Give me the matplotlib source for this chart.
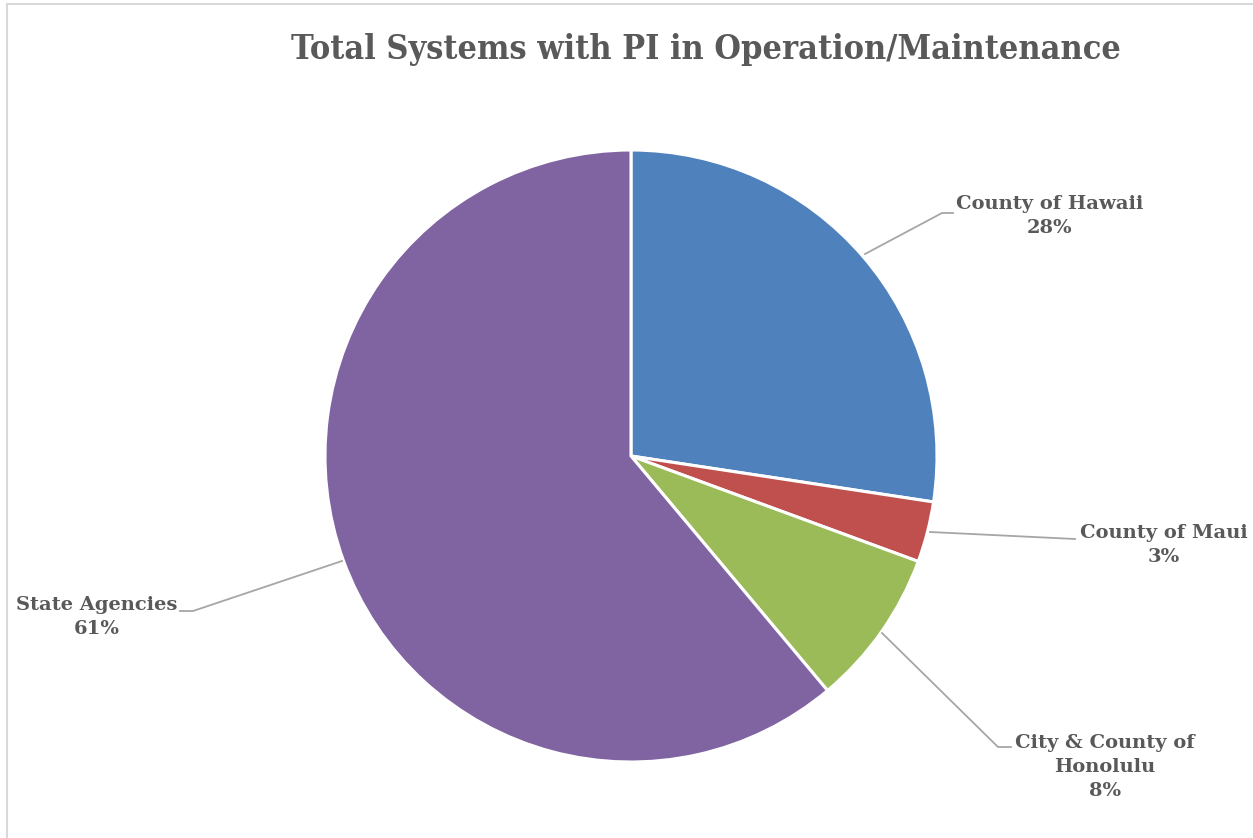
import matplotlib
matplotlib.use("Agg")
import matplotlib.pyplot as plt
import numpy as np
from matplotlib.lines import Line2D

title = "Total Systems with PI in Operation/Maintenance"
categories = ["County of Hawaii", "County of Maui", "City & County of\nHonolulu", "State Agencies"]
values = [27.4, 3.2, 8.3, 61.1]
pct_labels = ["28%", "3%", "8%", "61%"]
colors = ["#4F81BD", "#C0504D", "#9BBB59", "#8064A2"]

W, H = 1253, 838
fig = plt.figure(figsize=(W / 100, H / 100), dpi=100)
ax = fig.add_axes([0, 0, 1, 1])
ax.set_xlim(0, W)
ax.set_ylim(0, H)
ax.axis("off")

cx, cy, R = 631, H - 456, 306
wedges, _ = ax.pie(values, colors=colors, startangle=90, counterclock=False,
                   center=(cx, cy), radius=R, frame=True,
                   wedgeprops=dict(edgecolor="white", linewidth=2.2))
ax.set_xlim(0, W)
ax.set_ylim(0, H)
ax.axis("off")

txtc = "#595959"
linec = "#A6A6A6"
lfont = dict(family=["DejaVu Serif"], weight="bold", size=14, color=txtc)

# leader line geometry in pixel coords (y from top)
leaders = [
    dict(start=(865, 254), elbow=(942, 213), end=(953, 213), text=(1050, 216)),
    dict(start=(930, 532), elbow=(1075, 539), end=(1075, 539), text=(1164, 545)),
    dict(start=(882, 633), elbow=(998, 747), end=(1011, 747), text=(1105, 767)),
    dict(start=(342, 561), elbow=(193, 611), end=(180, 611), text=(97, 617)),
]
for cat, pct, ld in zip(categories, pct_labels, leaders):
    xs = [ld["start"][0], ld["elbow"][0], ld["end"][0]]
    ys = [H - ld["start"][1], H - ld["elbow"][1], H - ld["end"][1]]
    ax.add_line(Line2D(xs, ys, color=linec, lw=1.3))
    ax.text(ld["text"][0], H - ld["text"][1], cat + "\n" + pct, ha="center", va="center",
            linespacing=1.4, **lfont)

fig.text(706 / W, 1 - 50 / H, title, ha="center", va="center",
         family=["DejaVu Serif"], fontstretch="condensed", weight="bold", size=24.5, color=txtc)

# chart border (left and top)
fig.add_artist(Line2D([6.5 / W, 6.5 / W], [0, 1 - 4 / H], transform=fig.transFigure, color="#D9D9D9", lw=1.5))
fig.add_artist(Line2D([6.5 / W, 1], [1 - 4 / H, 1 - 4 / H], transform=fig.transFigure, color="#D9D9D9", lw=1.5))

fig.savefig("out.png", dpi=100, facecolor="white")
